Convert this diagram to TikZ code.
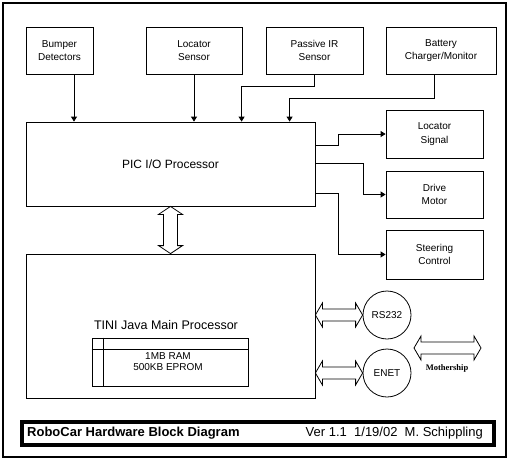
\documentclass[tikz,border=0pt]{standalone}
\usepackage{fontspec}
\setmainfont{Liberation Sans}
\newfontfamily\mothfont{Liberation Serif}
\usepackage{tikz}
\usetikzlibrary{positioning, arrows.meta, calc}

% hollow two-headed arrows between two points
\newcommand{\hbiarrow}[2]{\draw[line width=0.8pt] let \p1=#1, \p2=#2 in
  (\x1,\y1) -- (\x1+7pt,\y1+12pt) -- (\x1+7pt,\y1+6pt) -- (\x2-7pt,\y1+6pt) -- (\x2-7pt,\y1+12pt)
  -- (\x2,\y1) -- (\x2-7pt,\y1-12pt) -- (\x2-7pt,\y1-6pt) -- (\x1+7pt,\y1-6pt) -- (\x1+7pt,\y1-12pt) -- cycle;}
\newcommand{\vbiarrow}[2]{\draw[line width=0.8pt] let \p1=#1, \p2=#2 in
  (\x1,\y1) -- (\x1+12pt,\y1-8pt) -- (\x1+7pt,\y1-8pt) -- (\x1+7pt,\y2+8pt) -- (\x1+12pt,\y2+8pt)
  -- (\x1,\y2) -- (\x1-12pt,\y2+8pt) -- (\x1-7pt,\y2+8pt) -- (\x1-7pt,\y1-8pt) -- (\x1-12pt,\y1-8pt) -- cycle;}

\begin{document}
\begin{tikzpicture}[x=1pt, y=-1pt,
  blockbox/.style={draw, line width=0.8pt, inner sep=0pt, align=center,
    font=\fontsize{10}{13.5}\selectfont},
  port/.style={draw, circle, line width=0.8pt, inner sep=0pt, minimum size=48pt,
    font=\fontsize{10}{12}\selectfont},
  feed/.style={line width=0.8pt, -{Triangle[length=5pt,width=6pt]}}]
\useasboundingbox (0,0) rectangle (532,460);
\draw[line width=1.2pt] (3,3) rectangle (506,457);

% sensors on top
\node[blockbox, minimum width=67pt, minimum height=47pt] (bumper) at (59.5,50.5) {Bumper\\Detectors};
\node[blockbox, minimum width=96pt, minimum height=47pt] (locsens) at (194,50.5) {Locator\\Sensor};
\node[blockbox, minimum width=97pt, minimum height=47pt] (pir) at (314.5,50.5) {Passive IR\\Sensor};
\node[blockbox, minimum width=110pt, minimum height=47pt] (batt) at (441,50.5) {Battery\\Charger/Monitor};

% processors
\node[blockbox, minimum width=289pt, minimum height=84pt, font=\fontsize{12}{14}\selectfont] (pic) at (170.5,164) {PIC I/O Processor};
\node[blockbox, minimum width=289pt, minimum height=144pt] (tini) at (170.5,326) {};
\node[font=\fontsize{12.5}{15}\selectfont] (tinilabel) at (166,325) {TINI Java Main Processor};
\node[blockbox, minimum width=156pt, minimum height=48pt] (mem) at (170,362) {};
\draw[line width=0.8pt] ([xshift=12pt]mem.north west) -- ([xshift=12pt]mem.south west);
\draw[line width=0.8pt] ([yshift=-12pt]mem.north west) -- ([yshift=-12pt]mem.north east);
\node[align=center, font=\fontsize{10}{11.5}\selectfont] (memtext) at (168,361.5) {1MB RAM\\500KB EPROM};

% outputs
\node[blockbox, minimum width=97pt, minimum height=48pt] (locsig) at (434.5,134) {Locator\\Signal};
\node[blockbox, minimum width=97pt, minimum height=47pt] (drive) at (434.5,194.5) {Drive\\Motor};
\node[blockbox, minimum width=97pt, minimum height=49pt] (steer) at (434.5,254.5) {Steering\\Control};

% comm ports
\node[port] (rs) at (387,315) {RS232};
\node[port] (enet) at (387,373) {ENET};
\coordinate (mothl) at (414,348);
\coordinate (mothr) at (481,348);
\node[font=\mothfont\bfseries\fontsize{8.5}{10}\selectfont] (moth) at (447,368) {Mothership};

% inputs to PIC
\draw[feed] ([xshift=14.5pt]bumper.south) -- ([xshift=14.5pt]bumper.south |- pic.north);
\draw[feed] (locsens.south) -- (locsens.south |- pic.north);
\draw[feed] (pir.south) -- ++(0,12) -| ($(pic.north west)+(216,0)$);
\draw[feed] ([xshift=-7pt]batt.south) -- ++(0,24) -| ($(pic.north west)+(264,0)$);

% outputs from PIC
\draw[feed] ($(pic.north east)+(0,24)$) -- ++(23,0) |- (locsig.west);
\draw[feed] ($(pic.north east)+(0,42)$) -- ++(48,0) |- (drive.west);
\draw[feed] ($(pic.north east)+(0,72)$) -- ++(23,0) |- (steer.west);

% buses
\vbiarrow{(pic.south)}{(tini.north)}
\hbiarrow{(tini.east |- rs.west)}{(rs.west)}
\hbiarrow{(tini.east |- enet.west)}{(enet.west)}
\hbiarrow{(mothl)}{(mothr)}

% title bar
\node[draw, line width=4pt, minimum width=472pt, minimum height=23pt, inner sep=0pt] (titlebar) at (258,433.5) {};
\node[anchor=west, font=\bfseries\fontsize{13}{15}\selectfont, inner sep=0pt] (title) at (27,433.5) {RoboCar Hardware Block Diagram};
\node[anchor=east, font=\fontsize{13}{15}\selectfont, inner sep=0pt] (version) at (483,433.5) {Ver 1.1\ \ 1/19/02\ \ M. Schippling};
\end{tikzpicture}
\end{document}
